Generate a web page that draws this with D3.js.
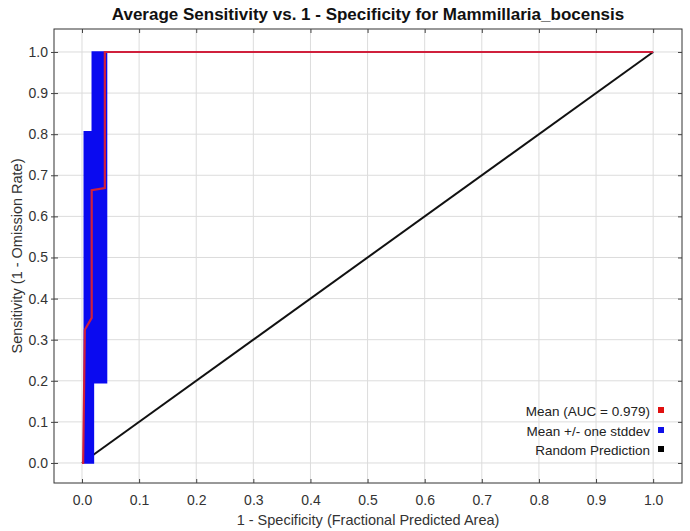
<!DOCTYPE html>
<html>
<head>
<meta charset="utf-8">
<script src="https://cdn.jsdelivr.net/npm/d3@7"></script>
<style>
  body { margin: 0; background: #fff; }
  svg { display: block; font-family: "Liberation Sans", Arial, sans-serif; }
</style>
</head>
<body>
<svg id="chart" width="690" height="531"></svg>
<script>
// ---- data ----
const title = "Average Sensitivity vs. 1 - Specificity for Mammillaria_bocensis";
const xLabel = "1 - Specificity (Fractional Predicted Area)";
const yLabel = "Sensitivity (1 - Omission Rate)";
const tickValues = [0, 0.1, 0.2, 0.3, 0.4, 0.5, 0.6, 0.7, 0.8, 0.9, 1.0];

// mean ROC curve (x = 1 - specificity, y = sensitivity)
const meanX = [0, 0.002, 0.005, 0.017, 0.017, 0.040, 0.040, 1.0];
const meanY = [0, 0.000, 0.324, 0.353, 0.664, 0.669, 1.000, 1.0];

// mean + one stddev (upper edge of band)
const upperX = [0.004, 0.004, 0.018, 0.018, 1.0];
const upperY = [0.000, 0.806, 0.806, 1.000, 1.0];
// mean - one stddev (lower edge of band)
const lowerX = [0.020, 0.020, 0.043, 0.043, 1.0];
const lowerY = [0.000, 0.195, 0.195, 1.000, 1.0];

// random prediction
const randX = [0, 1];
const randY = [0, 1];

const legendLabels = ["Mean (AUC = 0.979)", "Mean +/- one stddev", "Random Prediction"];
const legendColors = ["#e01010", "#1010e8", "#000000"];

// ---- layout ----
const svg = d3.select("#chart");
const L = 54, R = 682, T = 29, B = 483;
const x = d3.scaleLinear().domain([-0.049, 1.0505]).range([L, R]);
const y = d3.scaleLinear().domain([-0.0487, 1.0559]).range([B, T]);

// grid
const grid = svg.append("g");
grid.selectAll(".gx").data(tickValues).enter().append("line")
  .attr("x1", d => x(d)).attr("x2", d => x(d)).attr("y1", T).attr("y2", B)
  .attr("stroke", "#dcdcdc").attr("stroke-width", 1);
grid.selectAll(".gy").data(tickValues).enter().append("line")
  .attr("y1", d => y(d)).attr("y2", d => y(d)).attr("x1", L).attr("x2", R)
  .attr("stroke", "#dcdcdc").attr("stroke-width", 1);

// random line
const line = d3.line().x(d => x(d[0])).y(d => y(d[1]));
svg.append("path")
  .attr("d", line(d3.zip(randX, randY)))
  .attr("fill", "none").attr("stroke", "#111").attr("stroke-width", 2);

// stddev band
const bandPts = d3.zip(upperX, upperY).concat(d3.zip(lowerX, lowerY).reverse());
svg.append("path")
  .attr("d", line(bandPts) + "Z")
  .attr("fill", "#0a0af0").attr("stroke", "#0a0af0").attr("stroke-width", 1.5)
  .attr("stroke-linejoin", "miter");

// mean line
svg.append("path")
  .attr("d", line(d3.zip(meanX, meanY)))
  .attr("fill", "none").attr("stroke", "#d0203c").attr("stroke-width", 2.2)
  .attr("stroke-linejoin", "miter");

// frame
svg.append("rect").attr("x", L).attr("y", T).attr("width", R - L).attr("height", B - T)
  .attr("fill", "none").attr("stroke", "#333").attr("stroke-width", 1);

// axes (ticks inside, labels outside)
const axB = svg.append("g").attr("transform", `translate(0,${B})`)
  .call(d3.axisBottom(x).tickValues(tickValues).tickFormat(d3.format(".1f")).tickSizeInner(-4).tickSizeOuter(0).tickPadding(12));
const axT = svg.append("g").attr("transform", `translate(0,${T})`)
  .call(d3.axisTop(x).tickValues(tickValues).tickFormat("").tickSizeInner(-4).tickSizeOuter(0));
const axL = svg.append("g").attr("transform", `translate(${L},0)`)
  .call(d3.axisLeft(y).tickValues(tickValues).tickFormat(d3.format(".1f")).tickSizeInner(-4).tickSizeOuter(0).tickPadding(6));
const axR = svg.append("g").attr("transform", `translate(${R},0)`)
  .call(d3.axisRight(y).tickValues(tickValues).tickFormat("").tickSizeInner(-4).tickSizeOuter(0));
[axB, axT, axL, axR].forEach(a => {
  a.select(".domain").remove();
  a.selectAll(".tick line").attr("stroke", "#444");
  a.selectAll("text").attr("fill", "#333").style("font-size", "14px")
    .style("font-family", "'Liberation Sans', Arial, sans-serif");
});
// left tick marks straddle slightly outside
axL.selectAll(".tick line").attr("x1", -3).attr("x2", 4);

// title
svg.append("text").attr("x", (L + R) / 2).attr("y", 20).attr("text-anchor", "middle")
  .style("font-size", "17px").style("font-weight", "bold").attr("fill", "#111").text(title);
// axis labels
svg.append("text").attr("x", (L + R) / 2).attr("y", 525).attr("text-anchor", "middle")
  .style("font-size", "14.5px").attr("fill", "#333").text(xLabel);
svg.append("text").attr("transform", `translate(22,${(T + B) / 2}) rotate(-90)`).attr("text-anchor", "middle")
  .style("font-size", "14.5px").attr("fill", "#333").text(yLabel);

// legend
const leg = svg.append("g");
const legY = [411, 431, 450];
legendLabels.forEach((t, i) => {
  leg.append("text").attr("x", 650).attr("y", legY[i]).attr("dy", "0.35em")
    .attr("text-anchor", "end").style("font-size", "13.5px").attr("fill", "#222").text(t);
  leg.append("rect").attr("x", 658).attr("y", legY[i] - 4).attr("width", 6).attr("height", 6)
    .attr("fill", legendColors[i]);
});
</script>
</body>
</html>
